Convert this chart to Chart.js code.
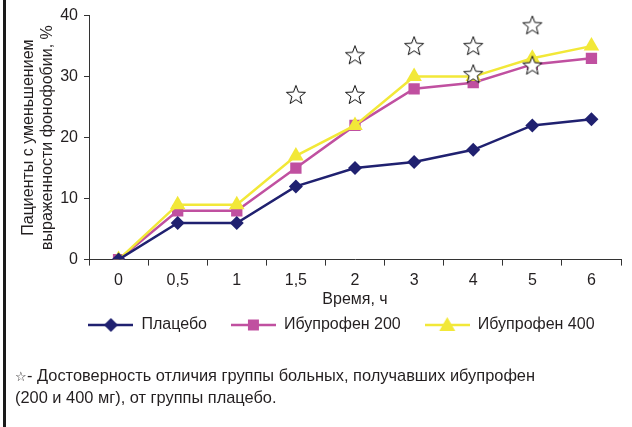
<!DOCTYPE html>
<html>
<head>
<meta charset="utf-8">
<script src="https://cdn.jsdelivr.net/npm/chart.js@4.4.1/dist/chart.umd.min.js"></script>
<style>
  html, body { margin: 0; padding: 0; background: #fff; }
  #wrap { position: relative; width: 632px; height: 427px; overflow: hidden;
          font-family: 'Liberation Sans', Arial, sans-serif; color: #231f20; }
  #chart { position: absolute; left: 0; top: 0; }
  #bar { position: absolute; left: 3px; top: 0; width: 3px; height: 427px; background: #1a1a1a; }
  #note { position: absolute; left: 15px; top: 365px; font-size: 16.4px; line-height: 21px; }
  #note .star { font-size: 13px; }
</style>
</head>
<body>
<div id="wrap">
  <canvas id="chart" width="632" height="427"></canvas>
  <div id="bar"></div>
  <div id="note"><span class="star">☆</span>- Достоверность отличия группы больных, получавших ибупрофен<br>(200 и 400 мг), от группы плацебо.</div>
</div>
<script>
const hours = ['0', '0,5', '1', '1,5', '2', '3', '4', '5', '6'];
const placebo = [0, 6, 6, 12, 15, 16, 18, 22, 23];
const ibuprofen200 = [0, 8, 8, 15, 22, 28, 29, 32, 33];
const ibuprofen400 = [0, 9, 9, 17, 22, 30, 30, 33, 35];

// significance stars (hour label, % level)
const starHours = ['1,5', '2', '2', '3', '4', '4', '5', '5'];
const starLevels = [27, 33.5, 27, 35, 35, 30.4, 38.4, 31.8];

const seriesNames = ['Плацебо', 'Ибупрофен 200', 'Ибупрофен 400'];
const colors = ['#202170', '#c050a0', '#f2e838'];
const markers = ['diamond', 'square', 'triangle'];

const textColor = '#231f20';
const axisColor = '#333333';
const font = "'Liberation Sans', Arial, sans-serif";

function drawMarker(ctx, kind, cx, cy, color) {
  ctx.fillStyle = color;
  ctx.beginPath();
  if (kind === 'diamond') {
    ctx.moveTo(cx, cy - 7); ctx.lineTo(cx + 7, cy); ctx.lineTo(cx, cy + 7); ctx.lineTo(cx - 7, cy);
  } else if (kind === 'square') {
    ctx.rect(cx - 5.5, cy - 5.5, 11, 11);
  } else {
    ctx.moveTo(cx, cy - 8); ctx.lineTo(cx + 8, cy + 6); ctx.lineTo(cx - 8, cy + 6);
  }
  ctx.closePath();
  ctx.fill();
}

function legendIcon(i) {
  const c = document.createElement('canvas');
  c.width = 45; c.height = 18;
  const ctx = c.getContext('2d');
  ctx.strokeStyle = colors[i];
  ctx.lineWidth = 2.5;
  ctx.beginPath(); ctx.moveTo(0, 9); ctx.lineTo(45, 9); ctx.stroke();
  drawMarker(ctx, markers[i], 22.5, 9, colors[i]);
  return c;
}

function starIcon() {
  const c = document.createElement('canvas');
  c.width = 24; c.height = 24;
  const ctx = c.getContext('2d');
  ctx.beginPath();
  for (let k = 0; k < 10; k++) {
    const r = k % 2 ? 4.2 : 10;
    const a = -Math.PI / 2 + k * Math.PI / 5;
    ctx.lineTo(12 + r * Math.cos(a), 12.5 + r * Math.sin(a));
  }
  ctx.closePath();
  ctx.fillStyle = '#fff';
  ctx.fill();
  ctx.strokeStyle = '#111';
  ctx.lineWidth = 1;
  ctx.stroke();
  return c;
}

const legendNudge = {
  id: 'legendNudge',
  afterLayout(chart, args, opts) {
    const lg = chart.legend;
    lg.left += opts.x; lg.right += opts.x;
    lg.top += opts.y; lg.bottom += opts.y;
  }
};

const lineSet = (i, data, order, style, radius) => ({
  label: seriesNames[i],
  data: data,
  order: order,
  borderColor: colors[i],
  backgroundColor: colors[i],
  borderWidth: 2.5,
  tension: 0,
  pointStyle: style,
  pointRadius: radius,
  pointBorderWidth: 0,
  pointBackgroundColor: colors[i],
});

new Chart(document.getElementById('chart'), {
  type: 'line',
  data: {
    labels: hours,
    datasets: [
      lineSet(0, placebo, 0, 'rectRot', 7),
      lineSet(1, ibuprofen200, 2, 'rect', 8),
      lineSet(2, ibuprofen400, 1, 'triangle', 9),
      {
        label: 'stars',
        data: starHours.map((h, k) => ({ x: h, y: starLevels[k] })),
        showLine: false,
        order: -1,
        pointStyle: starIcon(),
        pointRadius: 10,
      },
    ],
  },
  plugins: [legendNudge],
  options: {
    responsive: false,
    animation: false,
    events: [],
    layout: { padding: { top: 15, left: 0, right: 9, bottom: 68 } },
    scales: {
      x: {
        offset: true,
        grid: { drawOnChartArea: false, offset: true, tickLength: 6, color: axisColor },
        border: { color: axisColor, width: 1 },
        ticks: { color: textColor, padding: 5, font: { family: font, size: 16 } },
        title: {
          display: true, text: 'Время, ч', color: textColor,
          font: { family: font, size: 16 }, padding: { top: -5, bottom: 0 },
        },
      },
      y: {
        min: 0, max: 40,
        afterFit: (scale) => { scale.width = 89; },
        grid: { drawOnChartArea: false, tickLength: 5, color: axisColor },
        border: { color: axisColor, width: 1 },
        ticks: { stepSize: 10, color: textColor, padding: 6, font: { family: font, size: 16 } },
        title: {
          display: true,
          text: ['Пациенты с уменьшением', 'выраженности фонофобии, %'],
          color: textColor, font: { family: font, size: 16 },
          padding: { top: 19, bottom: 0 },
        },
      },
    },
    plugins: {
      tooltip: { enabled: false },
      legendNudge: { x: 30, y: -16 },
      legend: {
        position: 'bottom',
        labels: {
          usePointStyle: true,
          pointStyleWidth: 45,
          padding: 24,
          color: textColor,
          font: { family: font, size: 16 },
          generateLabels: () => seriesNames.map((name, i) => ({
            text: name,
            pointStyle: legendIcon(i),
            datasetIndex: i,
            hidden: false,
            lineWidth: 0,
            fillStyle: colors[i],
            strokeStyle: colors[i],
            fontColor: textColor,
          })),
        },
      },
    },
  },
});
</script>
</body>
</html>
